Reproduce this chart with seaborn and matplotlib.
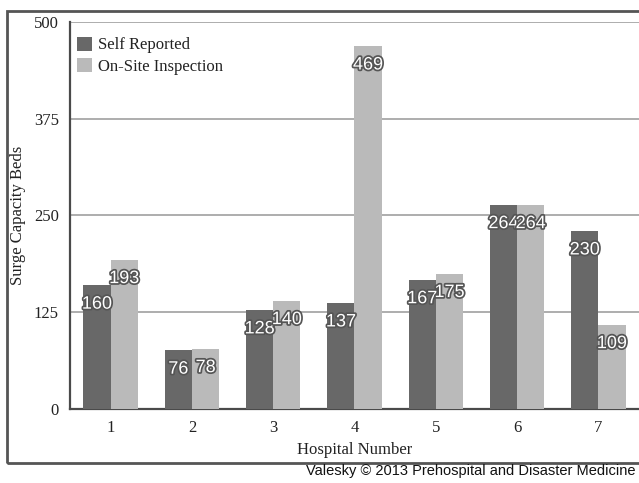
import matplotlib
matplotlib.use("Agg")
import matplotlib.pyplot as plt
import matplotlib.patheffects as pe
from matplotlib.patches import Rectangle
import seaborn as sns
import pandas as pd

hospitals = ["1", "2", "3", "4", "5", "6", "7"]
self_reported = [160, 76, 128, 137, 167, 264, 230]
on_site = [193, 78, 140, 469, 175, 264, 109]
series_names = ["Self Reported", "On-Site Inspection"]
y_ticks = [0, 125, 250, 375, 500]

df = pd.DataFrame({
    "Hospital": hospitals * 2,
    "Beds": self_reported + on_site,
    "Series": [series_names[0]] * len(hospitals) + [series_names[1]] * len(hospitals),
})

sns.set_style("white")
serif = ["Liberation Serif", "DejaVu Serif"]
sans = ["Liberation Sans", "DejaVu Sans"]

fig = plt.figure(figsize=(6.39, 4.83), dpi=100)
ax = fig.add_axes([0.1095, 0.1532, 0.8905, 0.8013])

palette = {series_names[0]: "#686868", series_names[1]: "#bababa"}
sns.barplot(data=df, x="Hospital", y="Beds", hue="Series", palette=palette,
            width=0.67, gap=0, saturation=1, ax=ax, linewidth=0, zorder=3)

ax.set_xlim(-0.5, 6.5)
ax.set_ylim(0, 500)
ax.set_yticks(y_ticks)
ax.yaxis.grid(True, color="#a0a0a0", linewidth=1.2, zorder=0)
ax.set_axisbelow(True)
for side in ["top", "right"]:
    ax.spines[side].set_visible(False)
for side in ["left", "bottom"]:
    ax.spines[side].set_color("#4a4a4a")
    ax.spines[side].set_linewidth(1.6)
ax.tick_params(axis="both", length=0, pad=8, labelsize=12, colors="#222222")
for lbl in ax.get_xticklabels() + ax.get_yticklabels():
    lbl.set_family(serif)
ax.set_xlabel("Hospital Number", family=serif, fontsize=12, color="#222222", labelpad=4)
ax.set_ylabel("Surge Capacity Beds", family=serif, fontsize=12, color="#222222", labelpad=6)

# value labels in white with a dark halo, just inside the bar tops
shadow = [pe.withStroke(linewidth=2.5, foreground="#555555")]
for container in ax.containers:
    for bar in container:
        h = bar.get_height()
        ax.annotate(f"{int(h)}", (bar.get_x() + bar.get_width() / 2, h),
                    xytext=(0, -19), textcoords="offset pixels",
                    ha="center", va="center", fontsize=13, color="white",
                    family=sans, path_effects=shadow, zorder=5)

leg = ax.legend(loc="upper left", bbox_to_anchor=(0.012, 0.962), frameon=False,
                prop={"family": serif, "size": 12}, handlelength=0.9, handleheight=0.9,
                handletextpad=0.35, labelspacing=0.28, borderaxespad=0, borderpad=0)
for t in leg.get_texts():
    t.set_color("#222222")

# outer frame around the chart
fig.patches.append(Rectangle((7 / 639, 20 / 483), 1.0, 452 / 483, transform=fig.transFigure,
                             fill=False, edgecolor="#555555", linewidth=2, zorder=0))

fig.text(636 / 639, 1 - 471 / 483, "Valesky \u00a9 2013 Prehospital and Disaster Medicine",
         ha="right", va="center", family=sans, fontsize=10.5, color="#111111")

fig.savefig("out.png", dpi=100)
